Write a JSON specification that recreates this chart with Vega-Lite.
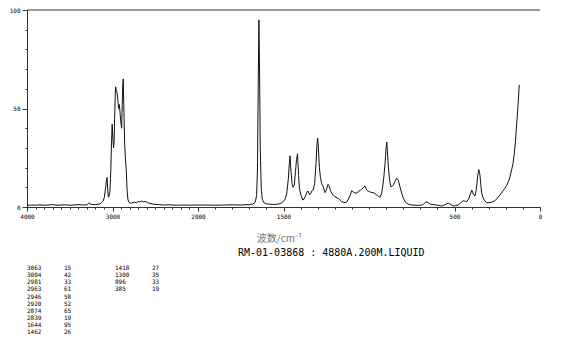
{
  "$schema": "https://vega.github.io/schema/vega-lite/v6.json",
  "padding": {"left": 9, "top": 7, "right": 5, "bottom": 5},
  "background": "white",
  "config": {
    "view": {"stroke": null},
    "axis": {"labelFont": "DejaVu Sans Mono", "labelFontSize": 6, "labelColor": "#000", "domainColor": "#333", "tickColor": "#333", "domainWidth": 1, "tickWidth": 1, "grid": false, "labelPadding": 2}
  },
  "bounds": "flush",
  "spacing": 61,
  "vconcat": [
    {
      "width": 513,
      "height": 197,
      "title": {"text": "RM-01-03868 : 4880A.200M.LIQUID", "orient": "bottom", "anchor": "start", "frame": "group", "dx": 211, "offset": 5, "font": "DejaVu Sans Mono", "fontSize": 10, "fontWeight": "normal", "color": "#000"},
      "data": {"values": [
            {"w":4000,"i":0.8},{"w":3950,"i":1.0},{"w":3900,"i":0.9},{"w":3850,"i":1.1},{"w":3800,"i":0.9},{"w":3750,"i":1.0},{"w":3700,"i":1.2},{"w":3650,"i":0.9},{"w":3600,"i":1.0},{"w":3550,"i":1.1},{"w":3500,"i":0.9},{"w":3450,"i":1.0},{"w":3400,"i":1.2},{"w":3350,"i":1.0},{"w":3300,"i":1.1},{"w":3280,"i":1.8},{"w":3270,"i":2.2},{"w":3260,"i":1.4},{"w":3230,"i":1.2},{"w":3200,"i":1.3},{"w":3170,"i":1.4},{"w":3150,"i":1.6},{"w":3130,"i":2.2},{"w":3110,"i":3},{"w":3095,"i":5},{"w":3080,"i":10},{"w":3070,"i":14},{"w":3063,"i":15},{"w":3056,"i":9},{"w":3048,"i":5},{"w":3040,"i":5.5},{"w":3030,"i":8},{"w":3020,"i":18},{"w":3012,"i":32},{"w":3004,"i":42},{"w":2996,"i":35},{"w":2988,"i":30},{"w":2981,"i":33},{"w":2975,"i":45},{"w":2968,"i":57},{"w":2963,"i":61},{"w":2955,"i":59},{"w":2946,"i":58},{"w":2937,"i":54},{"w":2928,"i":50},{"w":2920,"i":52},{"w":2910,"i":47},{"w":2900,"i":42},{"w":2893,"i":40},{"w":2886,"i":52},{"w":2880,"i":62},{"w":2874,"i":65},{"w":2866,"i":48},{"w":2858,"i":32},{"w":2848,"i":24},{"w":2839,"i":19},{"w":2830,"i":9},{"w":2820,"i":4},{"w":2810,"i":2.5},{"w":2795,"i":2},{"w":2780,"i":2},{"w":2760,"i":2.2},{"w":2740,"i":2.5},{"w":2720,"i":2.2},{"w":2700,"i":2.8},{"w":2680,"i":2.6},{"w":2660,"i":3},{"w":2640,"i":2.6},{"w":2610,"i":2.8},{"w":2590,"i":2.2},{"w":2560,"i":1.8},{"w":2530,"i":1.5},{"w":2500,"i":1.3},{"w":2450,"i":1.2},{"w":2400,"i":1.0},{"w":2350,"i":1.1},{"w":2300,"i":1.0},{"w":2250,"i":0.9},{"w":2200,"i":1.0},{"w":2150,"i":1.0},{"w":2100,"i":0.9},{"w":2050,"i":1.0},{"w":2000,"i":1.0},
            {"w":1950,"i":1.0},{"w":1900,"i":0.9},{"w":1850,"i":1.0},{"w":1800,"i":1.1},{"w":1750,"i":1.0},{"w":1700,"i":1.2},{"w":1680,"i":1.5},{"w":1665,"i":2.5},{"w":1657,"i":6},{"w":1652,"i":20},{"w":1648,"i":60},{"w":1644,"i":95},{"w":1640,"i":70},{"w":1636,"i":30},{"w":1630,"i":9},{"w":1624,"i":4},{"w":1615,"i":2.2},{"w":1600,"i":1.6},{"w":1580,"i":1.4},{"w":1560,"i":1.3},{"w":1540,"i":1.4},{"w":1520,"i":1.7},{"w":1505,"i":2.4},{"w":1490,"i":4},{"w":1481,"i":7},{"w":1472,"i":14},{"w":1466,"i":22},{"w":1462,"i":26},{"w":1456,"i":18},{"w":1450,"i":12},{"w":1444,"i":10},{"w":1437,"i":11},{"w":1430,"i":18},{"w":1424,"i":24},{"w":1418,"i":27},{"w":1412,"i":16},{"w":1406,"i":9},{"w":1398,"i":6},{"w":1388,"i":3.6},{"w":1380,"i":4},{"w":1372,"i":5.5},{"w":1362,"i":7.8},{"w":1355,"i":8},{"w":1348,"i":6.1},{"w":1340,"i":7},{"w":1332,"i":8.5},{"w":1326,"i":8.6},{"w":1318,"i":12},{"w":1310,"i":22},{"w":1304,"i":32},{"w":1300,"i":35},{"w":1296,"i":30},{"w":1290,"i":20},{"w":1284,"i":15},{"w":1277,"i":12},{"w":1267,"i":10.3},{"w":1260,"i":8},{"w":1257,"i":7.3},{"w":1250,"i":8.5},{"w":1240,"i":11.5},{"w":1234,"i":11},{"w":1226,"i":8.5},{"w":1218,"i":7},{"w":1208,"i":6},{"w":1199,"i":5.2},{"w":1180,"i":4.4},{"w":1160,"i":2.7},{"w":1140,"i":2.2},{"w":1130,"i":2.6},{"w":1121,"i":3.9},{"w":1110,"i":6},{"w":1101,"i":8.3},{"w":1090,"i":7.5},{"w":1082,"i":7},{"w":1070,"i":7.2},{"w":1063,"i":7.8},{"w":1050,"i":8.5},{"w":1043,"i":9},{"w":1030,"i":10},{"w":1023,"i":10.7},{"w":1018,"i":9.5},{"w":1013,"i":8.6},{"w":1005,"i":8},{"w":998,"i":7.8},{"w":990,"i":7.5},{"w":975,"i":7.3},{"w":965,"i":6.8},{"w":955,"i":6.1},{"w":945,"i":5.5},{"w":936,"i":4.9},{"w":926,"i":7},{"w":916,"i":12.8},{"w":906,"i":22},{"w":900,"i":30},{"w":896,"i":33},{"w":892,"i":28},{"w":887,"i":20.5},{"w":880,"i":14},{"w":873,"i":10.3},{"w":865,"i":10.5},{"w":858,"i":11.2},{"w":848,"i":13},{"w":838,"i":14.6},{"w":828,"i":13.5},{"w":819,"i":10.3},{"w":809,"i":7},{"w":799,"i":4.4},{"w":790,"i":3},{"w":780,"i":1.9},{"w":765,"i":1.3},{"w":750,"i":1.0},{"w":730,"i":0.9},{"w":710,"i":0.8},{"w":690,"i":1.0},{"w":675,"i":1.8},{"w":667,"i":2.7},{"w":655,"i":2.2},{"w":643,"i":1.5},{"w":625,"i":1.2},{"w":604,"i":1.0},{"w":590,"i":0.8},{"w":575,"i":0.5},{"w":560,"i":1.0},{"w":545,"i":1.6},{"w":536,"i":1.9},{"w":520,"i":1.2},{"w":507,"i":0.5},{"w":495,"i":0.7},{"w":478,"i":1.0},{"w":465,"i":2.0},{"w":449,"i":3.2},{"w":440,"i":3.0},{"w":429,"i":2.7},{"w":418,"i":4},{"w":409,"i":6.1},{"w":399,"i":8.6},{"w":390,"i":6.6},{"w":380,"i":5.6},{"w":372,"i":9},{"w":367,"i":13.7},{"w":362,"i":17},{"w":358,"i":19},{"w":354,"i":17.5},{"w":351,"i":16.2},{"w":346,"i":11},{"w":341,"i":7},{"w":334,"i":5},{"w":327,"i":3.6},{"w":312,"i":2.2},{"w":292,"i":2.2},{"w":275,"i":2.7},{"w":263,"i":3.2},{"w":250,"i":4.5},{"w":234,"i":6.1},{"w":220,"i":7.8},{"w":205,"i":9.5},{"w":195,"i":11},{"w":185,"i":12.8},{"w":175,"i":15.5},{"w":166,"i":18.8},{"w":158,"i":22},{"w":150,"i":27.2},{"w":143,"i":34},{"w":136,"i":42.5},{"w":129,"i":51},{"w":123,"i":59.4},{"w":121,"i":62}
      ]},
      "resolve": {"axis": {"x": "independent", "y": "independent"}},
      "layer": [
        {
          "mark": {"type": "point", "opacity": 0},
          "encoding": {
            "x": {"field": "w", "type": "quantitative",
              "scale": {"domain": [4000, 2000, 0], "range": [0, 171, 513], "nice": false, "zero": false},
              "axis": {
                "orient": "bottom",
                "values": [4000,3900,3800,3700,3600,3500,3400,3300,3200,3100,3000,2900,2800,2700,2600,2500,2400,2300,2200,2100,2000,1900,1800,1700,1600,1500,1400,1300,1200,1100,1000,900,800,700,600,500,400,300,200,100,0],
                "labels": false, "tickSize": 2, "domain": false, "title": null
              }
            },
            "y": {"field": "i", "type": "quantitative",
              "scale": {"domain": [0, 100], "nice": false},
              "axis": {
                "orient": "left",
                "values": [0,10,20,30,40,60,70,80,90],
                "labels": false, "tickSize": 2, "domain": false, "title": null
              }
            }
          }
        },
        {
          "mark": {"type": "line", "color": "#111", "strokeWidth": 1},
          "encoding": {
            "x": {"field": "w", "type": "quantitative",
              "axis": {
                "orient": "bottom",
                "values": [4000, 3000, 2000, 1500, 500, 0],
                "format": "d",
                "tickSize": 4,
                "labelOverlap": false, "labelFlush": false, "labelBound": false,
                "title": "波数/cm⁻¹", "titleFont": "Noto Sans CJK SC", "titleFontSize": 10, "titleFontWeight": "normal", "titleColor": "#777",
                "titleX": 252, "titleY": 31, "titleBaseline": "middle", "titleAlign": "center", "titleAnchor": null
              }
            },
            "y": {"field": "i", "type": "quantitative",
              "axis": {
                "orient": "left",
                "values": [0, 50, 100],
                "format": "d",
                "tickSize": 5,
                "title": null, "labelOverlap": false, "labelFlush": false, "labelBound": false
              }
            }
          }
        },
        {
          "data": {"values": [{}]},
          "mark": {"type": "rule", "color": "#333", "strokeWidth": 1},
          "encoding": {"y": {"datum": 100, "axis": null}}
        }
      ]
    },
    {
      "data": {"values": [
        {"wn": "3063", "int": "15"}, {"wn": "3004", "int": "42"}, {"wn": "2981", "int": "33"}, {"wn": "2963", "int": "61"}, {"wn": "2946", "int": "58"}, {"wn": "2920", "int": "52"}, {"wn": "2874", "int": "65"}, {"wn": "2839", "int": "19"}, {"wn": "1644", "int": "95"}, {"wn": "1462", "int": "26"},
        {"wn": "1418", "int": "27"}, {"wn": "1300", "int": "35"}, {"wn": "896", "int": "33"}, {"wn": "385", "int": "19"}
      ]},
      "transform": [
        {"window": [{"op": "row_number", "as": "n"}]},
        {"calculate": "floor((datum.n - 1) / 10)", "as": "grp"},
        {"calculate": "(datum.n - 1) % 10", "as": "row"},
        {"fold": ["wn", "int"], "as": ["col", "val"]}
      ],
      "facet": {"column": {"field": "grp", "type": "ordinal", "header": null}},
      "spacing": 51,
      "bounds": "flush",
      "spec": {
        "width": 37,
        "height": 64.4,
        "mark": {"type": "text", "align": "left", "baseline": "middle", "font": "DejaVu Sans Mono", "fontSize": 6, "color": "#000"},
        "encoding": {
          "x": {"field": "col", "type": "nominal", "sort": ["wn", "int"], "scale": {"type": "point", "padding": 0}, "axis": null},
          "y": {"field": "row", "type": "ordinal", "scale": {"type": "point", "padding": 0}, "axis": null},
          "text": {"field": "val", "type": "nominal"}
        }
      }
    }
  ]
}
